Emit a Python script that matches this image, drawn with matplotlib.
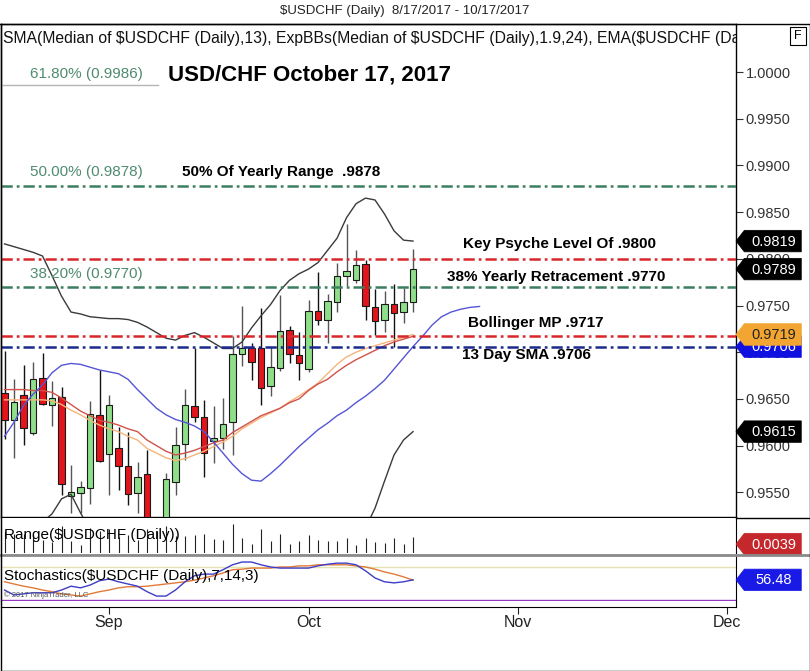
import matplotlib
matplotlib.use("Agg")
import matplotlib.pyplot as plt
from matplotlib import font_manager
from matplotlib.transforms import blended_transform_factory
from matplotlib.offsetbox import DrawingArea, AnnotationBbox
from matplotlib.patches import Polygon, Rectangle
from matplotlib.lines import Line2D
from matplotlib.text import Text

names = {f.name for f in font_manager.fontManager.ttflist}
FONT = "Liberation Sans" if "Liberation Sans" in names else "DejaVu Sans"
NARROW = "Liberation Sans Narrow" if "Liberation Sans Narrow" in names else FONT
plt.rcParams["font.family"] = [FONT, "DejaVu Sans"]

# ---------------- data ----------------
opens  = [0.9656,0.9627,0.9654,0.9614,0.9672,0.9644,0.9652,0.9546,0.9549,0.9555,0.9633,0.9591,0.9598,0.9578,0.9549,
          0.9570,0.9500,0.9460,0.9561,0.9602,0.9642,0.9631,0.9605,0.9608,0.9625,0.9698,0.9704,0.9704,0.9664,0.9683,
          0.9724,0.9697,0.9682,0.9744,0.9734,0.9754,0.9782,0.9777,0.9794,0.9748,0.9735,0.9752,0.9743,0.9754]
highs  = [0.9701,0.9671,0.9686,0.9690,0.9699,0.9669,0.9663,0.9579,0.9562,0.9648,0.9681,0.9654,0.9620,0.9615,0.9583,
          0.9595,0.9518,0.9571,0.9620,0.9661,0.9704,0.9649,0.9642,0.9651,0.9717,0.9749,0.9710,0.9747,0.9706,0.9761,
          0.9728,0.9722,0.9756,0.9786,0.9762,0.9796,0.9837,0.9809,0.9799,0.9768,0.9766,0.9773,0.9769,0.9811]
lows   = [0.9607,0.9587,0.9601,0.9611,0.9644,0.9621,0.9547,0.9528,0.9528,0.9538,0.9583,0.9547,0.9552,0.9536,0.9528,
          0.9490,0.9420,0.9452,0.9547,0.9585,0.9625,0.9566,0.9581,0.9596,0.9590,0.9685,0.9670,0.9643,0.9653,0.9680,
          0.9688,0.9670,0.9679,0.9729,0.9710,0.9743,0.9771,0.9774,0.9734,0.9718,0.9722,0.9706,0.9731,0.9743]
closes = [0.9627,0.9647,0.9619,0.9671,0.9645,0.9651,0.9559,0.9550,0.9556,0.9634,0.9584,0.9643,0.9578,0.9548,0.9566,
          0.9500,0.9440,0.9564,0.9601,0.9643,0.9631,0.9592,0.9608,0.9623,0.9698,0.9705,0.9690,0.9662,0.9684,0.9723,
          0.9698,0.9688,0.9744,0.9734,0.9755,0.9782,0.9787,0.9793,0.9749,0.9733,0.9752,0.9742,0.9754,0.9789]

bb_upper = [0.9816,0.9813,0.9810,0.9807,0.9803,0.9782,0.9760,0.9743,0.9741,0.9738,0.9737,0.9736,0.9736,0.9735,0.9732,
            0.9727,0.9721,0.9715,0.9713,0.9718,0.9721,0.9716,0.9710,0.9704,0.9704,0.9711,0.9726,0.9739,0.9751,0.9766,
            0.9777,0.9784,0.9789,0.9796,0.9809,0.9822,0.9844,0.9859,0.9865,0.9863,0.9848,0.9830,0.9820,0.9819]
bb_lower = [0.9480,0.9490,0.9500,0.9510,0.9518,0.9527,0.9543,0.9548,0.9528,0.9510,0.9500,0.9492,0.9485,0.9480,0.9478,
            0.9470,0.9455,0.9445,0.9440,0.9445,0.9448,0.9450,0.9455,0.9458,0.9460,0.9458,0.9455,0.9452,0.9450,0.9452,
            0.9455,0.9458,0.9462,0.9465,0.9470,0.9478,0.9488,0.9500,0.9512,0.9533,0.9562,0.9590,0.9606,0.9615]
bb_mid   = [0.9660,0.9660,0.9660,0.9659,0.9659,0.9657,0.9651,0.9644,0.9637,0.9632,0.9627,0.9625,0.9622,0.9618,0.9615,
            0.9606,0.9600,0.9594,0.9590,0.9592,0.9595,0.9599,0.9603,0.9606,0.9614,0.9620,0.9626,0.9632,0.9636,0.9640,
            0.9646,0.9650,0.9659,0.9666,0.9671,0.9679,0.9686,0.9692,0.9697,0.9702,0.9707,0.9711,0.9714,0.9717]
ema_line = [0.9649,0.9649,0.9649,0.9649,0.9649,0.9648,0.9644,0.9638,0.9633,0.9627,0.9622,0.9618,0.9615,0.9610,0.9606,
            0.9597,0.9592,0.9587,0.9584,0.9586,0.9590,0.9594,0.9599,0.9604,0.9610,0.9618,0.9624,0.9630,0.9635,0.9640,
            0.9647,0.9653,0.9660,0.9667,0.9677,0.9687,0.9695,0.9700,0.9704,0.9707,0.9710,0.9713,0.9716,0.9719]
sma_line = [0.9610,0.9625,0.9643,0.9655,0.9665,0.9678,0.9686,0.9688,0.9687,0.9684,0.9681,0.9679,0.9677,0.9671,0.9660,
            0.9650,0.9640,0.9633,0.9628,0.9625,0.9621,0.9615,0.9604,0.9592,0.9580,0.9570,0.9563,0.9562,0.9570,0.9579,
            0.9589,0.9599,0.9608,0.9617,0.9624,0.9632,0.9638,0.9646,0.9653,0.9661,0.9670,0.9682,0.9694,0.9706,0.9717,
            0.9729,0.9738,0.9743,0.9746,0.9748,0.9749]

stoch_d = [38,29,31,33,33,33,38,45,42,47,55,58,53,49,45,35,27,27,38,53,64,67,67,75,84,89,89,84,80,78,
           78,78,78,82,85,87,87,84,73,60,53,51,53,56.5]
stoch_k = [53,49,45,42,38,35,31,29,27,31,35,38,42,44,44,45,47,49,51,53,56,60,64,69,75,76,78,78,78,80,
           80,82,82,84,84,84,84,82,80,76,71,67,62,56]

fib_levels = [0.9986, 0.9878, 0.9770]
fib_labels = ["61.80% (0.9986)", "50.00% (0.9878)", "38.20% (0.9770)"]
red_levels = [0.9800, 0.9717]
sma_level = 0.9706

price_ticks = [0.9550, 0.9600, 0.9650, 0.9700, 0.9750, 0.9800, 0.9850, 0.9900, 0.9950, 1.0000]
date_tick_pos = [11, 32, 54, 76]
date_tick_labels = ["Sep", "Oct", "Nov", "Dec"]

badges_main = [(0.9819, "0.9819", "#000000", "white"),
               (0.9789, "0.9789", "#000000", "white"),
               (0.9706, "0.9706", "#1010e0", "white"),
               (0.9719, "0.9719", "#f3a531", "#222222"),
               (0.9615, "0.9615", "#000000", "white")]
range_badge = 0.0039
stoch_badge = 56.48

# ---------------- figure ----------------
W_PX, H_PX = 810, 671
fig = plt.figure(figsize=(W_PX / 100, H_PX / 100), dpi=100)
fig.patch.set_facecolor("white")

def fy(py):
    return 1 - py / H_PX

L = 1 / W_PX
AW = 735 / W_PX
XL = (-0.37, 77.0)

ax = fig.add_axes([L, fy(517), AW, fy(24) - fy(517)])
axr = fig.add_axes([L, fy(553), AW, fy(518) - fy(553)], sharex=ax)
axs = fig.add_axes([L, fy(601), AW, fy(556) - fy(601)], sharex=ax)
axd = fig.add_axes([L, fy(607), AW, fy(601) - fy(607)], sharex=ax)

ax.set_xlim(*XL)
ax.set_ylim(0.95236, 1.00514)

# candles
for i, (o, h, l, c) in enumerate(zip(opens, highs, lows, closes)):
    up = c >= o
    ax.vlines(i, l, h, color="#555555" if up else "#111111", lw=1, zorder=2)
    ax.add_patch(Rectangle((i - 0.36, min(o, c)), 0.72, max(abs(c - o), 0.00005),
                           facecolor="#8ede8a" if up else "#e3141b",
                           edgecolor="#1a1a1a", lw=0.8, zorder=3))

xs = list(range(len(bb_upper)))
ax.plot(xs, bb_upper, color="#3a3a3a", lw=1, zorder=4)
ax.plot(xs, bb_lower, color="#3a3a3a", lw=1, zorder=4)
ax.plot(xs, ema_line, color="#f5b47a", lw=1, zorder=4)
ax.plot(xs, bb_mid, color="#d0524a", lw=1, zorder=4)
ax.plot(list(range(len(sma_line))), sma_line, color="#5555d5", lw=1, zorder=4)

dash = (0, (4.5, 1.6, 1.1, 1.6))
ax.axhline(fib_levels[0], xmax=157 / 735, color="#b5b5b5", lw=1, zorder=5)
for lv in fib_levels[1:]:
    ax.axhline(lv, color="#3c7f60", lw=1.8, ls=dash, zorder=5)
for lv in red_levels:
    ax.axhline(lv, color="#d8262b", lw=1.8, ls=dash, zorder=5)
ax.axhline(sma_level, color="#1b2a90", lw=1.8, ls=dash, zorder=5)

bt = blended_transform_factory(ax.transAxes, ax.transData)
fib_offsets = [8.2, 10, 9.4]
for lv, lab, off in zip(fib_levels, fib_labels, fib_offsets):
    ax.annotate(lab, xy=(0.0395, lv), xycoords=bt, xytext=(0, off), textcoords="offset points",
                ha="left", va="center", fontsize=11, color="#4f8c70", zorder=6)

notes = [("50% Of Yearly Range  .9878", 0.2463, 0.9878, 10.0),
         ("Key Psyche Level Of .9800", 0.6286, 0.9800, 10.8),
         ("38% Yearly Retracement .9770", 0.6068, 0.9770, 7.4),
         ("Bollinger MP .9717", 0.6354, 0.9717, 9.4),
         ("13 Day SMA .9706", 0.6272, 0.9706, -6.0)]
for txt, xa, lv, off in notes:
    ax.annotate(txt, xy=(xa, lv), xycoords=bt, xytext=(0, off), textcoords="offset points",
                ha="left", va="center", fontsize=11, fontweight="bold", color="black", zorder=6)

ax.text(0.227, (517 - 75) / 493, "USD/CHF October 17, 2017", transform=ax.transAxes,
        ha="left", va="center", fontsize=16, fontweight="bold", color="black", zorder=6)

ax.text(0.0027, (517 - 38) / 493,
        "SMA(Median of $USDCHF (Daily),13), ExpBBs(Median of $USDCHF (Daily),1.9,24), EMA($USDCHF (Daily),13)",
        transform=ax.transAxes, ha="left", va="center", fontsize=11.3, color="#111111",
        clip_on=True, parse_math=False, zorder=6)

# price axis
ax.yaxis.tick_right()
ax.set_yticks(price_ticks)
ax.set_yticklabels(["%.4f" % t for t in price_ticks])
ax.tick_params(axis="y", direction="out", length=5, width=0.8, pad=2, labelsize=10.5,
               colors="#333333")
ax.tick_params(axis="x", bottom=False, labelbottom=False)
for s in ax.spines.values():
    s.set_color("black"); s.set_linewidth(1)


def badge(axis, val, text, fc, tc):
    tr = blended_transform_factory(axis.transAxes, axis.transData)
    da = DrawingArea(47, 15.5, 0, 0, clip=False)
    da.add_artist(Polygon([(0, 7.75), (6, 15.5), (47, 15.5), (47, 0), (6, 0)], closed=True,
                          facecolor=fc, edgecolor=fc, lw=0.5))
    da.add_artist(Text(27, 7.4, text, ha="center", va="center", color=tc, fontsize=10.5,
                       family=[FONT, "DejaVu Sans"]))
    ab = AnnotationBbox(da, (1.0, val), xycoords=tr, box_alignment=(0, 0.5), frameon=False,
                        pad=0, annotation_clip=False, zorder=10)
    axis.add_artist(ab)

for val, txt, fc, tc in badges_main:
    badge(ax, val, txt, fc, tc)

# range panel
ranges = [h - l for h, l in zip(highs, lows)]
axr.vlines(range(len(ranges)), 0, ranges, color="#222222", lw=0.8)
axr.set_ylim(0, 0.0153)
axr.set_yticks([]); axr.tick_params(axis="x", bottom=False, labelbottom=False)
axr.spines["top"].set_visible(False)
axr.spines["bottom"].set_visible(False)
axr.text(0.004, 0.5, "Range($USDCHF (Daily))", transform=axr.transAxes, ha="left",
         va="center", fontsize=11, color="black", parse_math=False)
badge(axr, range_badge, "%.4f" % range_badge, "#c4272c", "white")

# stochastics panel
axs.set_ylim(18, 100)
axs.axhline(80, color="#e3e3b4", lw=1)
axs.axhline(20, color="#9b3ccf", lw=1)
axs.plot(range(len(stoch_k)), stoch_k, color="#e07a3a", lw=1)
axs.plot(range(len(stoch_d)), stoch_d, color="#3d3dc8", lw=1)
axs.set_yticks([]); axs.tick_params(axis="x", bottom=False, labelbottom=False)
axs.spines["top"].set_visible(False)
axs.text(0.004, 0.55, "Stochastics($USDCHF (Daily),7,14,3)", transform=axs.transAxes,
         ha="left", va="center", fontsize=11, color="black", parse_math=False)
axs.text(0.004, 0.05, "\u00a9 2017 NinjaTrader, LLC", transform=axs.transAxes,
         ha="left", va="bottom", fontsize=5.5, color="#555555")
badge(axs, stoch_badge, "%.2f" % stoch_badge, "#1a1ae6", "white")

# date axis
axd.set_yticks([])
axd.spines["top"].set_visible(False)
axd.set_xticks(date_tick_pos)
axd.set_xticklabels(date_tick_labels)
axd.tick_params(axis="x", direction="out", length=5, width=0.8, pad=0.5, labelsize=11.5,
                colors="#222222")
axd.set_xlim(*XL)

# frame decorations
def fline(x0, y0, x1, y1, color="black", lw=1):
    fig.add_artist(Line2D([x0 / W_PX, x1 / W_PX], [fy(y0), fy(y1)], color=color, lw=lw))

fline(0, 23.5, 810, 23.5)
fline(736, 517.5, 810, 517.5)
fline(0, 554.5, 810, 554.5, color="#8a8a8a", lw=2)
fline(0.5, 23.5, 0.5, 670.5)
fline(809.5, 23.5, 809.5, 670.5)
fline(0.5, 670.5, 809.5, 670.5)
fig.add_artist(Rectangle((790 / W_PX, fy(45)), 16 / W_PX, 18 / H_PX, transform=fig.transFigure,
                         facecolor="white", edgecolor="black", lw=0.8))
fig.text(798 / W_PX, fy(36), "F", ha="center", va="center", fontsize=9)

fig.text(0.5, fy(11), "$USDCHF (Daily)  8/17/2017 - 10/17/2017", ha="center", va="center",
         fontsize=9.5, family=[NARROW, "DejaVu Sans"], color="#222222", parse_math=False)

fig.savefig("out.png", dpi=100, facecolor="white")
